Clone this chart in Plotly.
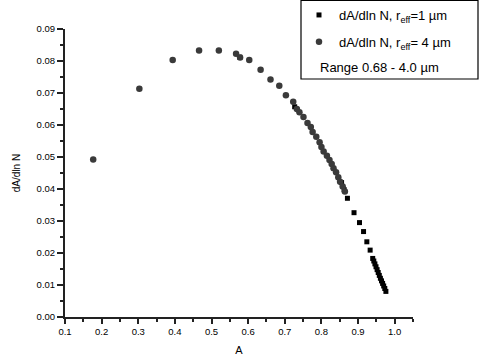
import plotly.graph_objects as go

# r_eff = 4 µm series (dark grey circles)
x_4um = [0.177, 0.303, 0.394, 0.466, 0.520, 0.567, 0.578, 0.603, 0.634, 0.661,
         0.685, 0.703, 0.723, 0.733, 0.740, 0.751, 0.762, 0.771, 0.776, 0.786,
         0.795, 0.800, 0.806, 0.815, 0.822, 0.828, 0.833, 0.840, 0.846, 0.851,
         0.858, 0.864]
y_4um = [0.0492, 0.0713, 0.0803, 0.0833, 0.0833, 0.0823, 0.0811, 0.0803, 0.0773, 0.0742,
         0.0723, 0.0693, 0.0673, 0.0650, 0.0640, 0.0625, 0.0606, 0.0594, 0.0578, 0.0563,
         0.0546, 0.0531, 0.0517, 0.0504, 0.0491, 0.0478, 0.0465, 0.0452, 0.0437, 0.0423,
         0.0408, 0.0392]

# r_eff = 1 µm series (black squares)
x_1um = [0.577, 0.727, 0.855, 0.862, 0.871, 0.889, 0.904, 0.915, 0.924, 0.933,
         0.940, 0.943, 0.946, 0.949, 0.952, 0.955, 0.958, 0.961, 0.964, 0.967,
         0.970, 0.973, 0.976]
y_1um = [0.0812, 0.0657, 0.0420, 0.0398, 0.0371, 0.0326, 0.0295, 0.0267, 0.0235, 0.0209,
         0.0183, 0.0175, 0.0166, 0.0157, 0.0148, 0.0139, 0.0130, 0.0121, 0.0113, 0.0105,
         0.0097, 0.0089, 0.0080]

name_1um = "dA/dln N, r<sub>eff</sub>=1 µm"
name_4um = "dA/dln N, r<sub>eff</sub>= 4 µm"
range_text = "Range 0.68 - 4.0 µm"

FONT = "Liberation Sans, Arial, sans-serif"

fig = go.Figure()
fig.add_trace(go.Scatter(x=x_1um, y=y_1um, mode="markers", name=name_1um,
                         legendgroup="a",
                         marker=dict(symbol="square", size=5, color="#000000")))
fig.add_trace(go.Scatter(x=x_4um, y=y_4um, mode="markers", name=name_4um,
                         legendgroup="b",
                         marker=dict(symbol="circle", size=6.5, color="#3a3a3a")))

L, R, T, B = 65, 66, 29, 43
W, H = 479, 360
pw, ph = W - L - R, H - T - B

def px(xp):
    return (xp - L) / pw

def py(yp):
    return (H - B - yp) / ph

fig.update_layout(
    width=W, height=H,
    margin=dict(l=L, r=R, t=T, b=B, autoexpand=False),
    paper_bgcolor="white", plot_bgcolor="white",
    font=dict(family=FONT, color="black"),
    showlegend=True,
    legend=dict(x=px(299), y=py(0), xanchor="left", yanchor="top",
                bgcolor="rgba(0,0,0,0)", borderwidth=0,
                font=dict(size=13, family=FONT), tracegroupgap=7,
                traceorder="grouped"),
    shapes=[dict(type="rect", xref="paper", yref="paper",
                 x0=px(301), x1=px(478), y0=py(79), y1=py(0.5),
                 line=dict(color="black", width=1.2))],
    annotations=[dict(text=range_text, xref="paper", yref="paper",
                      x=px(318), y=py(68), xanchor="left", yanchor="middle",
                      showarrow=False, font=dict(size=13, family=FONT))],
)

fig.update_xaxes(range=[0.1, 1.05], tick0=0.1, dtick=0.1, tickformat=".1f",
                 showgrid=False, zeroline=False, showline=True, linecolor="#222",
                 linewidth=2, ticks="outside", ticklen=5, tickwidth=1.5,
                 tickcolor="#222", tickfont=dict(size=9.5, family=FONT),
                 minor=dict(dtick=0.05, ticks="outside", ticklen=3, tickcolor="#222"),
                 title=dict(text="A", font=dict(size=11, family=FONT), standoff=10),
                 automargin=False)
fig.update_yaxes(range=[0, 0.09], tick0=0, dtick=0.01, tickformat=".2f",
                 showgrid=False, zeroline=False, showline=True, linecolor="#222",
                 linewidth=2, ticks="outside", ticklen=6, tickwidth=1.5,
                 tickcolor="#222", tickfont=dict(size=9.5, family=FONT),
                 minor=dict(dtick=0.005, ticks="outside", ticklen=3, tickcolor="#222"),
                 title=dict(text="dA/dln N", font=dict(size=10, family=FONT), standoff=14),
                 automargin=False)

fig.write_html("out.html")
